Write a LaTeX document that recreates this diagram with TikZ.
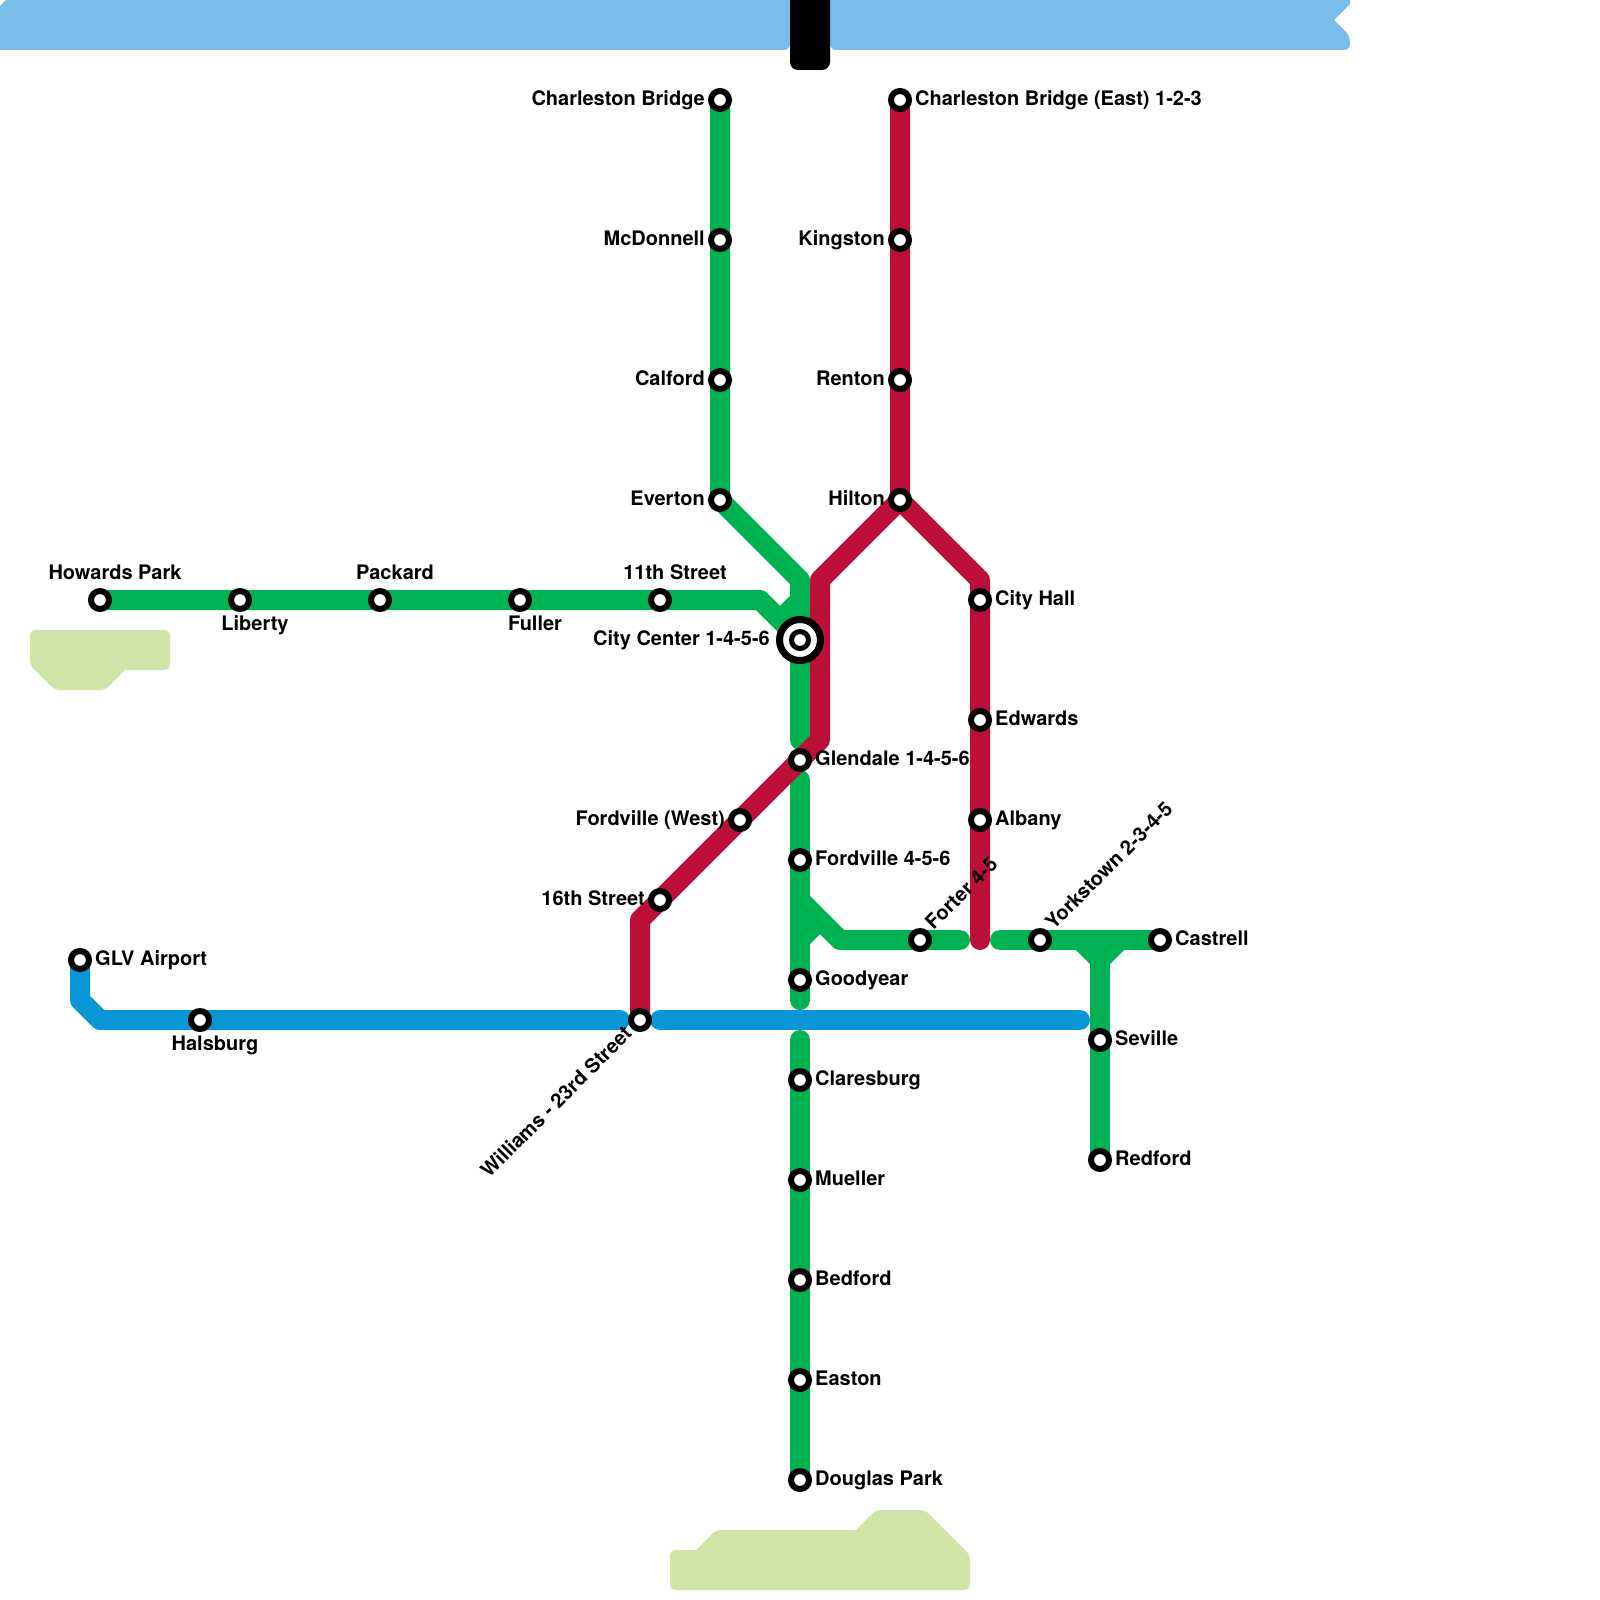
\documentclass[tikz,border=0pt]{standalone}
\usepackage{fontspec}
\setmainfont{TeX Gyre Heros}
\usetikzlibrary{backgrounds}
\definecolor{lgreen}{HTML}{00B251}
\definecolor{lred}{HTML}{BD1038}
\definecolor{lblue}{HTML}{0896D7}
\definecolor{water}{HTML}{79BDE9}
\definecolor{park}{HTML}{CFE4A7}
\tikzset{
  metro/.style={line width=20pt,line cap=round,line join=round},
  gline/.style={metro,draw=lgreen},
  rline/.style={metro,draw=lred},
  bline/.style={metro,draw=lblue},
  stn/.style={circle,draw=black,fill=white,line width=6pt,minimum size=18pt,inner sep=0pt},
  lbl/.style={inner sep=0pt,font=\fontsize{20}{22}\selectfont\bfseries,text=black},
  rlbl/.style={lbl,anchor=base west},
  llbl/.style={lbl,anchor=base east},
  clbl/.style={lbl,anchor=base},
}
\newcommand{\mkst}[3]{\node[stn] (#1) at (#2,#3) {};}
\newcommand{\lbR}[2]{\node[rlbl] (#1-t) at ([shift={(15,5.4)}]#1.center) {#2};}
\newcommand{\lbL}[2]{\node[llbl] (#1-t) at ([shift={(-15,5.4)}]#1.center) {#2};}
\newcommand{\lbA}[2]{\node[clbl] (#1-t) at ([shift={(15,-20.5)}]#1.center) {#2};}
\newcommand{\lbB}[2]{\node[clbl] (#1-t) at ([shift={(15,30)}]#1.center) {#2};}
\begin{document}
\begin{tikzpicture}[x=1pt,y=-1pt]
\useasboundingbox (0,0) rectangle (1600,1600);
% stations
\mkst{cbw}{720}{100}\mkst{mcd}{720}{240}\mkst{cal}{720}{380}\mkst{eve}{720}{500}
\mkst{cbe}{900}{100}\mkst{kin}{900}{240}\mkst{ren}{900}{380}\mkst{hil}{900}{500}
\mkst{hwd}{100}{600}\mkst{lib}{240}{600}\mkst{pac}{380}{600}\mkst{ful}{520}{600}\mkst{ele}{660}{600}
\mkst{chl}{980}{600}\mkst{edw}{980}{720}\mkst{alb}{980}{820}
\mkst{gle}{800}{760}\mkst{fow}{740}{820}\mkst{six}{660}{900}
\mkst{for}{800}{860}\mkst{goo}{800}{980}\mkst{cla}{800}{1080}\mkst{mue}{800}{1180}
\mkst{bed}{800}{1280}\mkst{eas}{800}{1380}\mkst{dou}{800}{1480}
\mkst{fot}{920}{940}\mkst{yor}{1040}{940}\mkst{cas}{1160}{940}\mkst{sev}{1100}{1040}\mkst{red}{1100}{1160}
\mkst{glv}{80}{960}\mkst{hal}{200}{1020}\mkst{wil}{640}{1020}
\node[circle,draw=black,fill=white,line width=7pt,minimum size=41pt,inner sep=0pt] (hub) at (800,640) {};
\node[circle,draw=black,fill=white,line width=5pt,minimum size=17pt,inner sep=0pt] (hubin) at (800,640) {};
% corner coordinates
\coordinate (g1) at (800,580); \coordinate (g2) at (800,740); \coordinate (g3) at (760,600);
\coordinate (g4) at (800,600); \coordinate (g5) at (780,620);
\coordinate (g6) at (800,780); \coordinate (g7) at (800,1000); \coordinate (g8) at (800,1040);
\coordinate (g9) at (800,900); \coordinate (g10) at (840,940); \coordinate (g11) at (960,940);
\coordinate (g12) at (800,940); \coordinate (g13) at (820,920);
\coordinate (g14) at (1000,940); \coordinate (g15) at (1080,940); \coordinate (g16) at (1100,960); \coordinate (g17) at (1120,940);
\coordinate (r1) at (820,580); \coordinate (r2) at (820,740); \coordinate (r3) at (640,920);
\coordinate (r4) at (980,580); \coordinate (r5) at (980,940);
\coordinate (b1) at (80,1000); \coordinate (b2) at (100,1020); \coordinate (b3) at (620,1020);
\coordinate (b4) at (660,1020); \coordinate (b5) at (1080,1020);
\begin{scope}[on background layer]
  % water
  \fill[water,rounded corners=6pt] (0,-20) -- (790,-20) -- (790,50) -- (-20,50) -- cycle;
  \fill[white] (0,0) -- (6,0) -- (0,6) -- cycle;
  \fill[water] (830,0) [rounded corners=6pt] -- (830,50) -- (1350,50) -- (1350,36) [sharp corners] -- (1334,20) -- (1350,4) -- (1350,0) -- cycle;
  \fill[black,rounded corners=8pt] (790,-20) -- (790,70) -- (830,70) -- (830,-20) -- cycle;
  % parks
  \fill[park] (125,670) [rounded corners=5pt] -- (105,690) -- (55,690) -- (30,665) -- (30,630) -- (170,630) -- (170,670) [sharp corners] -- cycle;
  \fill[park] (696,1550) [rounded corners=5pt] -- (716,1530) [sharp corners] -- (856,1530) [rounded corners=5pt] -- (876,1510) -- (925,1510) -- (970,1555) -- (970,1590) -- (670,1590) -- (670,1550) [sharp corners] -- cycle;
  % green lines
  \draw[gline] (cbw.center) -- (mcd.center) -- (cal.center) -- (eve.center) -- (g1) -- (hub.center) -- (g2);
  \draw[gline] (hwd.center) -- (lib.center) -- (pac.center) -- (ful.center) -- (ele.center) -- (g3) -- (hub.center);
  \draw[gline,line cap=butt] (g4) -- (g5);
  \draw[gline] (g6) -- (for.center) -- (goo.center) -- (g7);
  \draw[gline] (g8) -- (cla.center) -- (mue.center) -- (bed.center) -- (eas.center) -- (dou.center);
  \draw[gline] (g9) -- (g10) -- (fot.center) -- (g11);
  \draw[gline,line cap=butt] (g12) -- (g13);
  \draw[gline] (g14) -- (yor.center) -- (cas.center);
  \draw[gline,line cap=butt] (g15) -- (g16) -- (g17);
  \draw[gline] (g16) -- (sev.center) -- (red.center);
  % blue lines
  \draw[bline] (glv.center) -- (b1) -- (b2) -- (hal.center) -- (b3);
  \draw[bline] (b4) -- (b5);
  % red lines
  \draw[rline] (cbe.center) -- (kin.center) -- (ren.center) -- (hil.center) -- (r1) -- (r2) -- (gle.center) -- (fow.center) -- (six.center) -- (r3) -- (wil.center);
  \draw[rline] (hil.center) -- (r4) -- (chl.center) -- (edw.center) -- (alb.center) -- (r5);
\end{scope}
% labels
\lbL{cbw}{Charleston Bridge}\lbL{mcd}{McDonnell}\lbL{cal}{Calford}\lbL{eve}{Everton}
\lbR{cbe}{Charleston Bridge (East) 1-2-3}\lbL{kin}{Kingston}\lbL{ren}{Renton}\lbL{hil}{Hilton}
\lbA{hwd}{Howards Park}\lbB{lib}{Liberty}\lbA{pac}{Packard}\lbB{ful}{Fuller}\lbA{ele}{11th Street}
\lbR{chl}{City Hall}\lbR{edw}{Edwards}\lbR{alb}{Albany}
\lbR{gle}{Glendale 1-4-5-6}\lbL{fow}{Fordville (West)}\lbL{six}{16th Street}
\lbR{for}{Fordville 4-5-6}\lbR{goo}{Goodyear}\lbR{cla}{Claresburg}\lbR{mue}{Mueller}
\lbR{bed}{Bedford}\lbR{eas}{Easton}\lbR{dou}{Douglas Park}
\lbR{cas}{Castrell}\lbR{sev}{Seville}\lbR{red}{Redford}
\lbR{glv}{GLV Airport}\lbB{hal}{Halsburg}
\node[llbl] (hub-t) at ([shift={(-30,5.4)}]hub.center) {City Center 1-4-5-6};
\node[rlbl,rotate=45] (fot-t) at ([shift={(13.5,-9)}]fot.center) {Forter 4-5};
\node[rlbl,rotate=45] (yor-t) at ([shift={(13.5,-9)}]yor.center) {Yorkstown 2-3-4-5};
\node[llbl,rotate=45] (wil-t) at ([shift={(-7,15)}]wil.center) {Williams - 23rd Street};
\end{tikzpicture}
\end{document}
